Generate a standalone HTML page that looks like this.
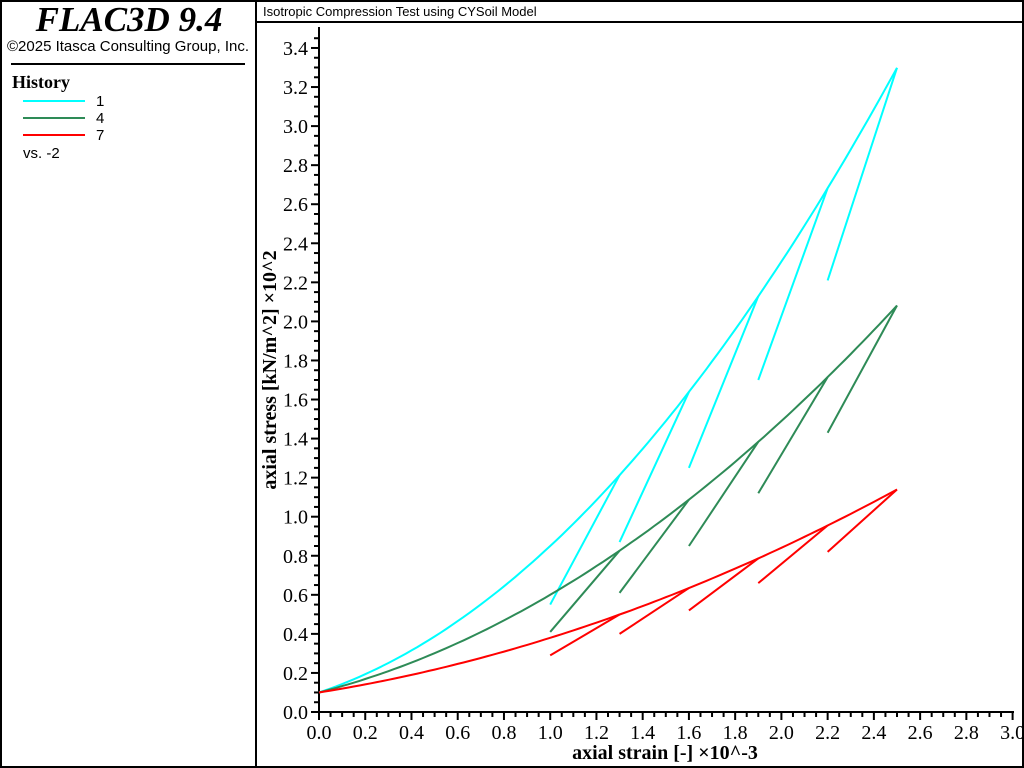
<!DOCTYPE html>
<html><head><meta charset="utf-8"><style>
body{margin:0;background:#fff;}
svg{display:block;font-family:"Liberation Serif",serif;}
</style></head><body>
<svg id="s" width="1024" height="768" xmlns="http://www.w3.org/2000/svg">
<rect x="1" y="1" width="1022" height="766" fill="#fff" stroke="#000" stroke-width="2"/>
<line x1="256" y1="0" x2="256" y2="768" stroke="#000" stroke-width="2"/>
<line x1="256" y1="22" x2="1024" y2="22" stroke="#000" stroke-width="2"/>
<text x="129" y="31" text-anchor="middle" font-size="35" font-weight="bold" font-style="italic">FLAC3D 9.4</text>
<text x="128" y="51" text-anchor="middle" font-size="15" font-family="Liberation Sans, sans-serif">©2025 Itasca Consulting Group, Inc.</text>
<line x1="11" y1="64" x2="245" y2="64" stroke="#000" stroke-width="2"/>
<text x="12" y="88" font-size="18" font-weight="bold">History</text>
<line x1="23" y1="101" x2="85" y2="101" stroke="#00ffff" stroke-width="2"/>
<line x1="23" y1="118" x2="85" y2="118" stroke="#2e8b57" stroke-width="2"/>
<line x1="23" y1="135" x2="85" y2="135" stroke="#ff0000" stroke-width="2"/>
<g font-family="Liberation Sans, sans-serif" font-size="15"><text x="96" y="106">1</text><text x="96" y="123">4</text><text x="96" y="140">7</text><text x="23" y="158">vs. -2</text>
<text x="263" y="16" font-size="13">Isotropic Compression Test using CYSoil Model</text></g>
<g id="ax" stroke="#000" stroke-width="2"></g>
<g id="lab" font-size="20"></g>
<g id="cur" fill="none" stroke-width="2"></g>
<text x="665" y="759" text-anchor="middle" font-size="20" font-weight="bold">axial strain [-] ×10^-3</text>
<text transform="translate(276,370) rotate(-90)" text-anchor="middle" font-size="20" font-weight="bold">axial stress [kN/m^2] ×10^2</text>
</svg>
<script>
const X=x=>319+x*231.2,Y=y=>712-y*195.3,NS="http://www.w3.org/2000/svg";
function el(p,t,a,txt){const e=document.createElementNS(NS,t);for(const k in a)e.setAttribute(k,a[k]);if(txt!=null)e.textContent=txt;document.getElementById(p).appendChild(e);}
el("ax","line",{x1:319,y1:27,x2:319,y2:713});el("ax","line",{x1:318,y1:712,x2:1014,y2:712});
for(let i=0;i<=60;i++){const x=X(i*0.05),L=i%4==0?8:5;el("ax","line",{x1:x,y1:712,x2:x,y2:712+L});if(i%4==0)el("lab","text",{x:x,y:739,"text-anchor":"middle"},(i*0.05).toFixed(1));}
for(let i=0;i<=69;i++){const y=Y(i*0.05),L=i%4==0?8:5;el("ax","line",{x1:319-L,y1:y,x2:319,y2:y});if(i%4==0)el("lab","text",{x:308,y:y+7,"text-anchor":"end"},(i*0.05).toFixed(1));}
const S=[["#00ffff",0.397,0.353,[0.55,0.87,1.25,1.7,2.21]],
["#2e8b57",0.305,0.195,[0.41,0.61,0.85,1.12,1.43]],
["#ff0000",0.189,0.0907,[0.29,0.4,0.52,0.66,0.82]]];
for(const [c,b,k,u] of S){const f=x=>0.1+b*x+k*x*x;let pts=[];for(let i=0;i<=100;i++){const x=i*0.025;pts.push(X(x).toFixed(1)+","+Y(f(x)).toFixed(1));}
el("cur","polyline",{points:pts.join(" "),stroke:c});
[1.3,1.6,1.9,2.2,2.5].forEach((t,i)=>{el("cur","line",{x1:X(t-0.3),y1:Y(u[i]),x2:X(t),y2:Y(f(t)),stroke:c});});}
</script>
</body></html>
